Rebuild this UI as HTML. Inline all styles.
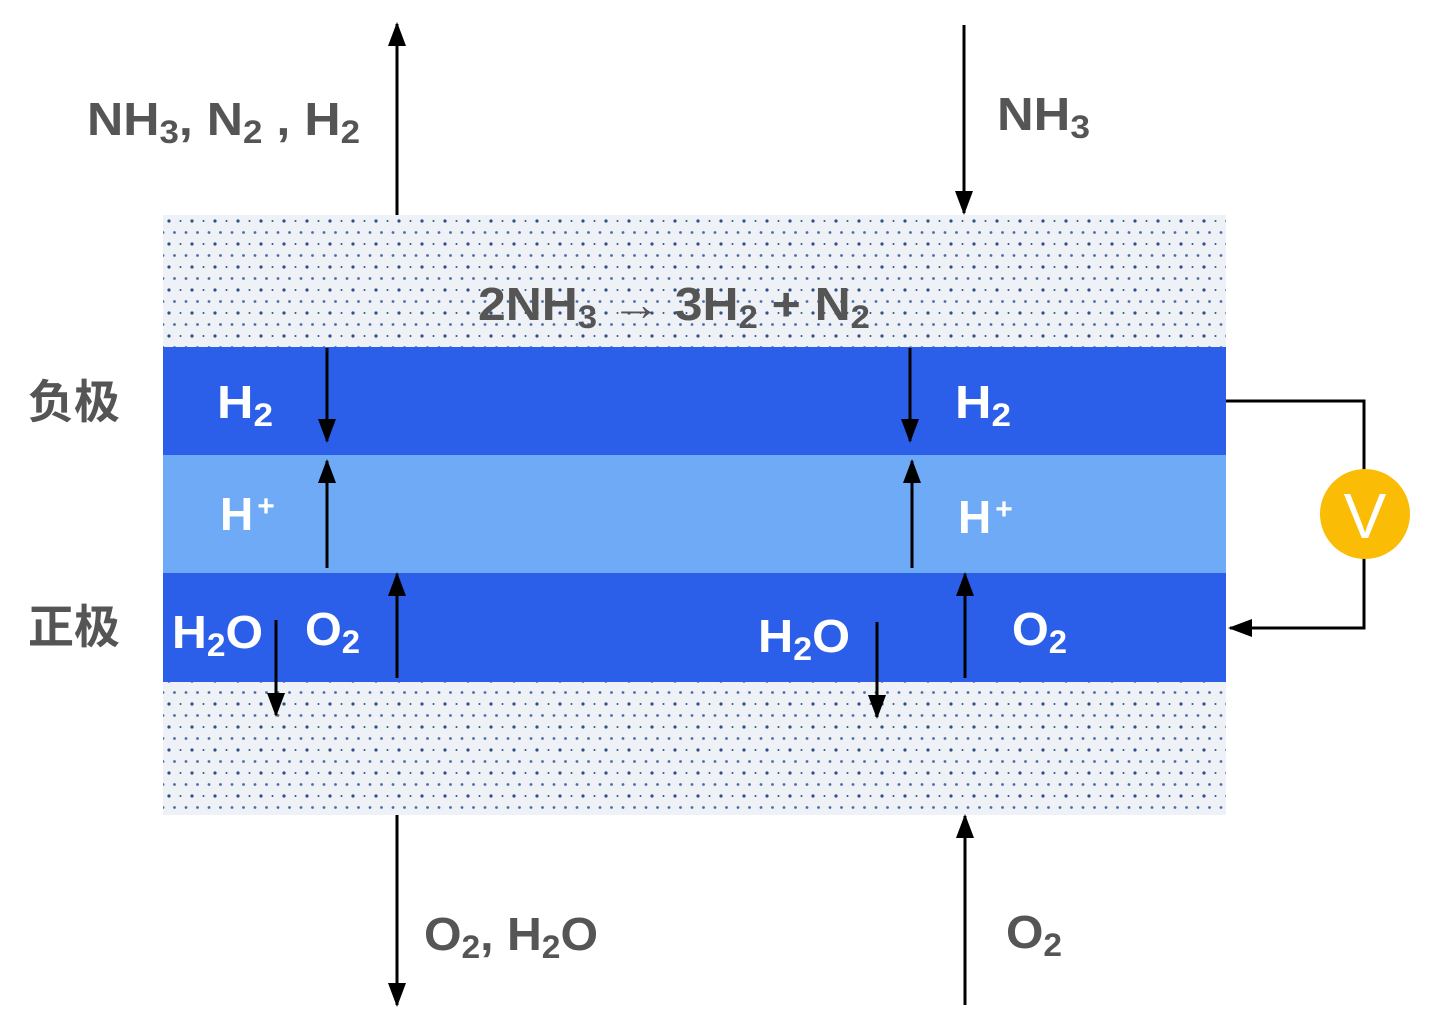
<!DOCTYPE html>
<html><head><meta charset="utf-8"><style>
html,body{margin:0;padding:0;background:#fff;}
svg{display:block;}
text{font-family:"Liberation Sans","Noto Sans CJK SC",sans-serif;font-weight:bold;}
</style></head><body>
<svg width="1439" height="1030" viewBox="0 0 1439 1030" xmlns="http://www.w3.org/2000/svg">
<defs>
<pattern id="dots" x="163" y="215" width="23" height="23" patternUnits="userSpaceOnUse">
<rect width="23" height="23" fill="#eef1f5"/>
<circle cx="6" cy="6" r="1.6" fill="#2d4f8a"/>
<circle cx="17.5" cy="6" r="1" fill="#2d4f8a"/>
<circle cx="0" cy="17.5" r="1.4" fill="#4b6da5"/>
<circle cx="11.5" cy="17.5" r="1.4" fill="#4b6da5"/>
<circle cx="23" cy="17.5" r="1.4" fill="#4b6da5"/>
</pattern>
<marker id="ah" markerWidth="24" markerHeight="20" refX="22" refY="10" orient="auto" markerUnits="userSpaceOnUse">
<path d="M0,1 L24,10 L0,19 Z" fill="#000"/>
</marker>
</defs>
<rect x="163" y="215" width="1063" height="132" fill="url(#dots)"/>
<rect x="163" y="682" width="1063" height="133" fill="url(#dots)"/>
<rect x="163" y="347" width="1063" height="108" fill="#2b5fe9"/>
<rect x="163" y="455" width="1063" height="118" fill="#6eaaf6"/>
<rect x="163" y="573" width="1063" height="109" fill="#2b5fe9"/>

<g stroke="#000" stroke-width="3" fill="none" marker-end="url(#ah)">
<line x1="397" y1="215" x2="397" y2="24"/>
<line x1="964" y1="25" x2="964" y2="213"/>
<line x1="327" y1="348" x2="327" y2="441"/>
<line x1="910" y1="348" x2="910" y2="441"/>
<line x1="327" y1="568" x2="327" y2="461"/>
<line x1="912" y1="568" x2="912" y2="461"/>
<line x1="397" y1="678" x2="397" y2="574"/>
<line x1="965" y1="678" x2="965" y2="574"/>
<line x1="276" y1="620" x2="276" y2="715"/>
<line x1="877" y1="622" x2="877" y2="717"/>
<line x1="397" y1="815" x2="397" y2="1005"/>
<line x1="965" y1="1005" x2="965" y2="816"/>
<polyline points="1364,558 1364,628 1230,628"/>
</g>
<polyline points="1226,401 1364,401 1364,470" stroke="#000" stroke-width="3" fill="none"/>
<circle cx="1365" cy="514" r="45" fill="#fbbc05"/>
<text x="1365" y="538" font-size="64" fill="#fff" text-anchor="middle" style="font-weight:normal">V</text>

<g fill="#555" font-size="46">
<text x="87" y="135" textLength="273" lengthAdjust="spacingAndGlyphs">NH<tspan font-size="32" dy="8">3</tspan><tspan dy="-8">, N</tspan><tspan font-size="32" dy="8">2</tspan><tspan dy="-8"> , H</tspan><tspan font-size="32" dy="8">2</tspan></text>
<text x="997" y="130" textLength="93" lengthAdjust="spacingAndGlyphs">NH<tspan font-size="32" dy="8">3</tspan></text>
<text x="478" y="320" textLength="392" lengthAdjust="spacingAndGlyphs">2NH<tspan font-size="32" dy="8">3</tspan><tspan dy="-8"> → 3H</tspan><tspan font-size="32" dy="8">2</tspan><tspan dy="-8"> + N</tspan><tspan font-size="32" dy="8">2</tspan></text>
<text x="424" y="950" textLength="174" lengthAdjust="spacingAndGlyphs">O<tspan font-size="32" dy="8">2</tspan><tspan dy="-8">, H</tspan><tspan font-size="32" dy="8">2</tspan><tspan dy="-8">O</tspan></text>
<text x="1006" y="948" textLength="56" lengthAdjust="spacingAndGlyphs">O<tspan font-size="32" dy="8">2</tspan></text>
<text x="28" y="418" font-size="46">负极</text>
<text x="28" y="643" font-size="46">正极</text>
</g>
<g fill="#fff" font-size="46">
<text x="217" y="418" textLength="56" lengthAdjust="spacingAndGlyphs">H<tspan font-size="32" dy="8">2</tspan></text>
<text x="955" y="418" textLength="56" lengthAdjust="spacingAndGlyphs">H<tspan font-size="32" dy="8">2</tspan></text>
<text x="220" y="530">H<tspan font-size="30" dx="4" dy="-14">+</tspan></text>
<text x="958" y="533">H<tspan font-size="30" dx="4" dy="-14">+</tspan></text>
<text x="172" y="648" textLength="91" lengthAdjust="spacingAndGlyphs">H<tspan font-size="32" dy="8">2</tspan><tspan dy="-8">O</tspan></text>
<text x="305" y="645" textLength="55" lengthAdjust="spacingAndGlyphs">O<tspan font-size="32" dy="8">2</tspan></text>
<text x="758" y="652" textLength="92" lengthAdjust="spacingAndGlyphs">H<tspan font-size="32" dy="8">2</tspan><tspan dy="-8">O</tspan></text>
<text x="1012" y="645" textLength="55" lengthAdjust="spacingAndGlyphs">O<tspan font-size="32" dy="8">2</tspan></text>
</g>
</svg>
</body></html>
